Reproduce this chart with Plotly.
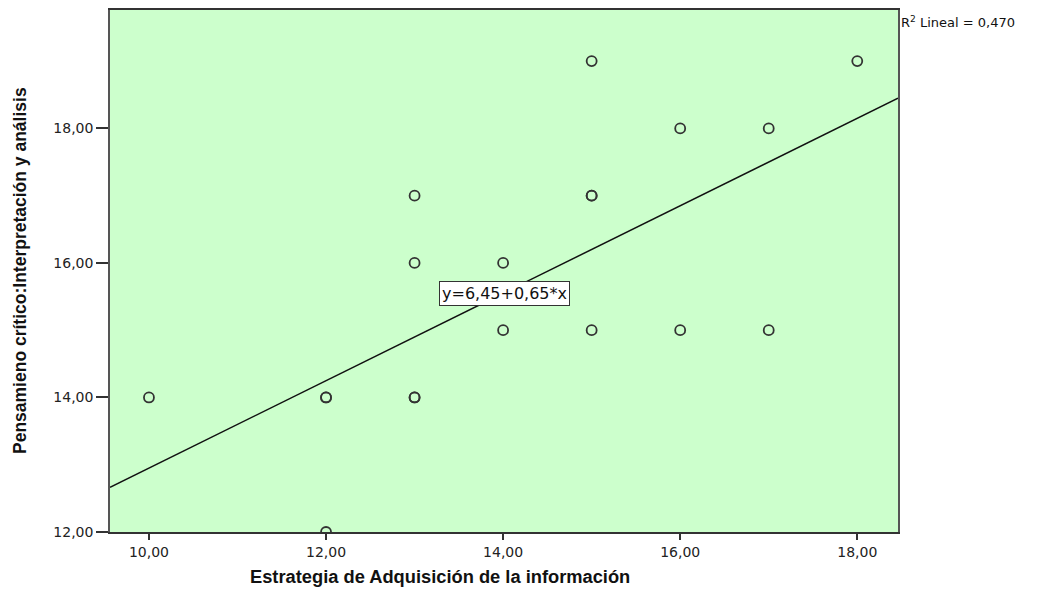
import plotly.graph_objects as go

# Datos
estrategia = [10, 12, 12, 12, 13, 13, 13, 13, 14, 14, 15, 15, 15, 15, 16, 16, 17, 17, 18]
pensamiento = [14, 14, 14, 12, 17, 16, 14, 14, 16, 15, 19, 17, 17, 15, 18, 15, 18, 15, 19]
x_ticks = [10, 12, 14, 16, 18]
x_labels = ["10,00", "12,00", "14,00", "16,00", "18,00"]
y_ticks = [12, 14, 16, 18]
y_labels = ["12,00", "14,00", "16,00", "18,00"]
intercepto = 6.45
pendiente = 0.65
r2 = "0,470"

x_rango = [9.56, 18.46]
y_rango = [12, 19.76]

colors = {
    'plot_bg': '#CCFFCC',
    'marker': '#333333',
    'text': '#222222'
}

# zona del gráfico (píxeles dentro de la figura)
L, T, W, H = 102, 0, 788, 524


def px_x(p):
    return (p - L) / W


def px_y(p):
    return (T + H - p) / H


fig = go.Figure()

# Recta de regresión
linea_x = x_rango
linea_y = [intercepto + pendiente * v for v in linea_x]
fig.add_trace(go.Scatter(x=linea_x, y=linea_y, mode="lines",
                         line={'color': '#111111', 'width': 1.5}, showlegend=False))

# Puntos
fig.add_trace(go.Scatter(x=estrategia, y=pensamiento, mode="markers",
                         marker={'symbol': 'circle-open', 'size': 10,
                                 'color': colors['marker'], 'line': {'width': 1.8}},
                         showlegend=False))

fig.add_annotation(x=14.02, y=15.54, text="y=6,45+0,65*x", showarrow=False,
                   font={'family': 'DejaVu Sans', 'size': 16, 'color': '#111111'},
                   bgcolor='white', bordercolor='#333333', borderwidth=1, borderpad=2)

fig.add_annotation(x=1.0, y=1.0, xref='paper', yref='paper', xanchor='left', yanchor='top',
                   xshift=1, yshift=-2,
                   text="R<sup>2</sup> Lineal = " + r2, showarrow=False,
                   font={'family': 'DejaVu Sans', 'size': 13, 'color': '#111111'})

# títulos de los ejes
fig.add_annotation(x=px_x(432), y=px_y(569), xref='paper', yref='paper',
                   xanchor='center', yanchor='middle', showarrow=False,
                   text="<b>Estrategia de Adquisición de la información</b>",
                   font={'family': 'Liberation Sans, Arial', 'size': 18.3, 'color': '#111111'})

fig.add_annotation(x=px_x(12), y=px_y(262), xref='paper', yref='paper',
                   xanchor='center', yanchor='middle', showarrow=False, textangle=-90,
                   text="<b>Pensamieno crítico:Interpretación y análisis</b>",
                   font={'family': 'Liberation Sans, Arial', 'size': 17.5, 'color': '#111111'})

fig.update_layout(
    width=1033, height=583,
    margin={'l': L, 'r': 1033 - L - W, 't': T, 'b': 583 - T - H},
    paper_bgcolor='white', plot_bgcolor=colors['plot_bg'],
    font={'family': 'DejaVu Sans', 'size': 14, 'color': colors['text']},
    xaxis={'range': x_rango, 'tickvals': x_ticks, 'ticktext': x_labels,
           'showgrid': False, 'zeroline': False, 'showline': True, 'mirror': True,
           'linecolor': '#333333', 'linewidth': 1.5, 'ticks': 'outside', 'ticklen': 6,
           'tickcolor': '#333333', 'tickwidth': 2},
    yaxis={'range': y_rango, 'tickvals': y_ticks, 'ticktext': y_labels,
           'showgrid': False, 'zeroline': False, 'showline': True, 'mirror': True,
           'linecolor': '#555555', 'linewidth': 1.5, 'ticks': 'outside', 'ticklen': 12,
           'tickcolor': '#333333', 'tickwidth': 2},
)

fig.write_html("out.html")
